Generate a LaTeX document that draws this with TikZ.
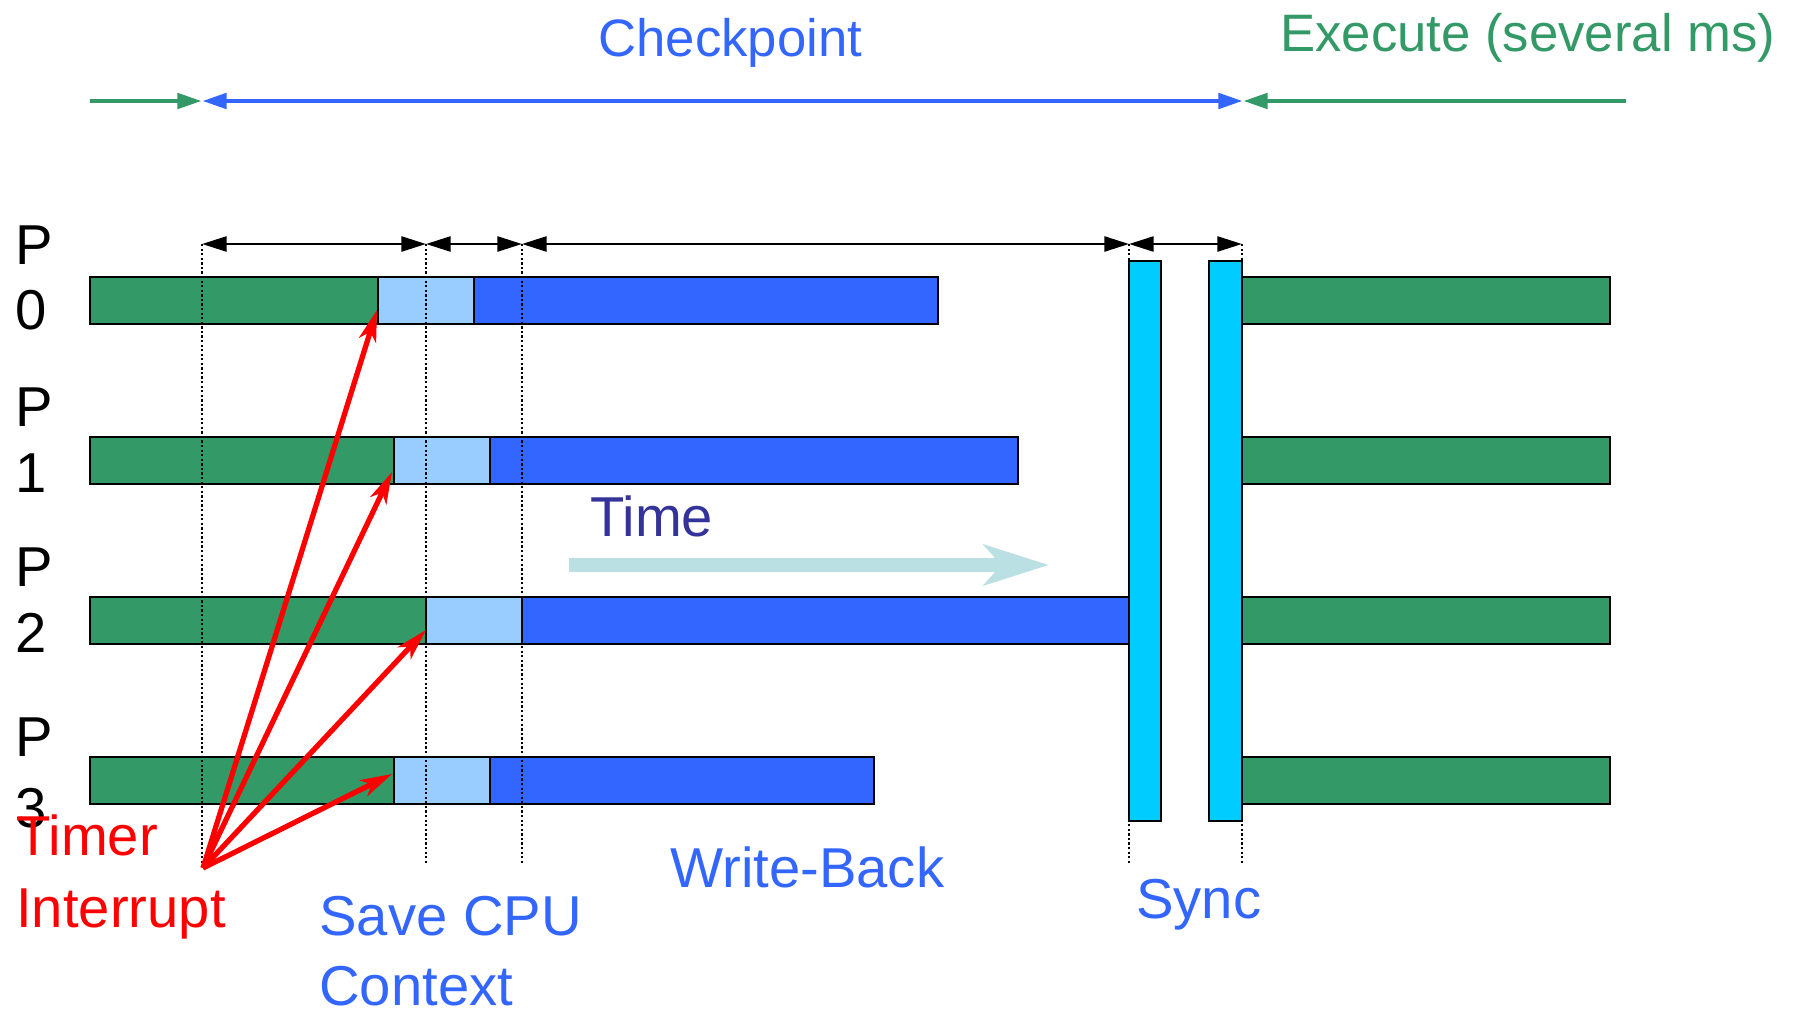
\documentclass[tikz,border=0pt]{standalone}
\usepackage{fontspec}
\setmainfont{Liberation Sans}
\usetikzlibrary{arrows.meta}
\definecolor{cpgreen}{HTML}{339966}
\definecolor{cplight}{HTML}{99CCFF}
\definecolor{cpblue}{HTML}{3366FF}
\definecolor{cpcyan}{HTML}{00CCFF}
\definecolor{cptime}{HTML}{333399}
\definecolor{cparrow}{HTML}{BBE0E3}
\tikzstyle{bargreen}=[draw=black,line width=1.6pt,fill=cpgreen]
\tikzstyle{barlight}=[draw=black,line width=1.6pt,fill=cplight]
\tikzstyle{barblue}=[draw=black,line width=1.6pt,fill=cpblue]
\tikzstyle{barsync}=[draw=black,line width=1.6pt,fill=cpcyan]
\tikzstyle{guide}=[black,line width=1.3pt,dash pattern=on 1.3pt off 1.3pt]
\tikzstyle{dimarrow}=[black,line width=1.5pt,{Triangle[length=14pt,width=8.5pt]}-{Triangle[length=14pt,width=8.5pt]}]
\tikzstyle{phase}=[line width=2.8pt]
\tikzstyle{irq}=[red,line width=3pt,-{Stealth[length=18pt,width=10pt,inset=5pt]}]
\tikzstyle{lbl}=[inner sep=0pt,anchor=base west,font=\fontsize{32}{38}\selectfont]
\tikzstyle{headlbl}=[inner sep=0pt,anchor=base west,font=\fontsize{30}{36}\selectfont]

\begin{document}
\begin{tikzpicture}[x=0.02cm,y=-0.02cm]
    \useasboundingbox (0,0) rectangle (1796,1011);
    \coordinate (e0) at (90,101);
    \coordinate (c0) at (202,101);
    \coordinate (c1) at (1243,101);
    \coordinate (e1) at (1626,101);
    \draw[phase,cpgreen,-{Triangle[length=14pt,width=8.5pt]}] (e0) -- (c0);
    \draw[phase,cpblue,{Triangle[length=14pt,width=8.5pt]}-{Triangle[length=14pt,width=8.5pt]}] (c0) -- (c1);
    \draw[phase,cpgreen,-{Triangle[length=14pt,width=8.5pt]}] (e1) -- (c1);
    \node[headlbl,cpblue] (chk) at (598,56) {Checkpoint};
    \node[headlbl,cpgreen] (exe) at (1280,51) {Execute (several ms)};

    \foreach \y/\a/\b/\c in {277/378/474/938, 437/394/490/1018, 597/426/522/1129, 757/394/490/874} {
        \draw[bargreen] (90,\y) rectangle (\a,\y+47);
        \draw[barlight] (\a,\y) rectangle (\b,\y+47);
        \draw[barblue] (\b,\y) rectangle (\c,\y+47);
        \draw[bargreen] (1242,\y) rectangle (1610,\y+47);
    }

    \foreach \x [count=\i] in {202,426,522,1129,1242} {
        \coordinate (t\i) at (\x,244);
        \coordinate (b\i) at (\x,865);
        \draw[guide] (t\i) -- (b\i);
    }
    \foreach \from/\to in {t1/t2,t2/t3,t3/t4,t4/t5}
    \draw[dimarrow] (\from) -- (\to);

    \draw[barsync] (1129,261) rectangle (1161,821);
    \draw[barsync] (1209,261) rectangle (1242,821);

    \coordinate (ts) at (569,565);
    \coordinate (te) at (1049,565);
    \draw[cparrow,line width=7.8pt,-{Stealth[length=37pt,width=23pt,inset=10pt]}] (ts) -- (te);
    \node[lbl,cptime] (tim) at (590,536) {Time};

    \foreach \i/\p/\d in {0/264/329, 1/426/492, 2/586/652, 3/756/827} {
        \node[lbl] (p\i) at (15,\p) {P};
        \node[lbl] (n\i) at (15,\d) {\i};
    }

    \coordinate (irq) at (203,868);
    \coordinate (h0) at (377,310);
    \coordinate (h1) at (392,472);
    \coordinate (h2) at (426,630);
    \coordinate (h3) at (392,774);
    \foreach \h in {h0,h1,h2,h3}
    \draw[irq] (irq) -- (\h);

    \node[lbl,red] (tmr) at (16,855) {Timer};
    \node[lbl,red] (intr) at (16,927) {Interrupt};
    \node[lbl,cpblue] (sav) at (319,935) {Save CPU};
    \node[lbl,cpblue] (ctx) at (319,1005) {Context};
    \node[lbl,cpblue] (wb) at (670,887) {Write-Back};
    \node[lbl,cpblue] (syn) at (1136,918) {Sync};
\end{tikzpicture}
\end{document}
